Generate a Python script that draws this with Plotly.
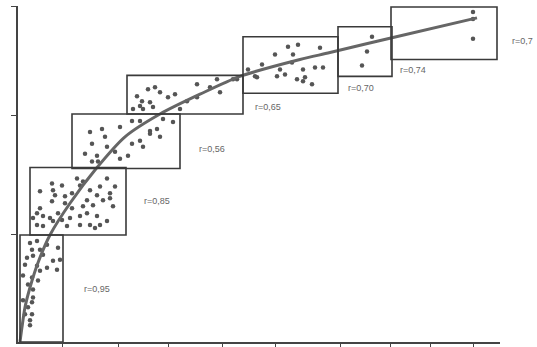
import plotly.graph_objects as go

# ---- data (x and y in arbitrary axis units) ----
pts_x = [
    # group 1
    1.2, 1.9, 1.4, 2.2, 2.9, 4.0, 0.9, 1.5, 2.5, 3.5, 4.2, 0.7, 1.9, 2.9, 3.9, 2.2,
    1.4, 2.0, 0.5, 1.0, 1.5, 1.5, 1.4, 1.0, 1.4, 1.2, 1.2, 0.5, 0.7,
    # group 2
    2.2, 3.4, 3.5, 3.7, 4.4, 4.7, 5.4, 6.2, 6.5, 5.9, 7.2, 8.2, 8.9, 9.7, 9.2, 7.9,
    8.5, 9.5, 9.2, 6.9, 7.5, 6.5, 5.4, 4.7, 3.4, 2.2, 1.9, 2.5, 3.2, 4.0, 4.4, 5.2,
    6.2, 6.9, 7.9, 8.2, 7.2, 6.2, 4.9, 2.5, 1.9, 1.5, 3.5, 8.9, 7.7,
    # group 3
    7.2, 8.4, 10.2, 8.7, 7.4, 8.9, 6.7, 7.9, 9.7, 11.0, 10.2, 11.4, 12.2, 13.2, 14.2,
    13.2, 13.9, 11.4, 12.2, 15.5, 14.5, 12.5, 7.4, 8.0,
    # group 4
    11.9, 12.4, 13.0, 13.7, 12.2, 13.2, 13.5, 14.2, 15.0, 15.7, 16.2, 12.5, 11.5,
    17.9, 19.2, 20.2, 19.9, 21.5, 17.9, 16.9,
    # group 5
    21.9, 23.0, 23.7, 24.4, 25.7, 26.2, 25.9, 26.7, 27.0, 27.5, 28.0, 27.4, 28.5,
    28.7, 29.7, 30.2, 30.5, 27.9, 28.5, 29.4, 23.9,
    # group 6
    35.4, 34.9, 34.4,
    # group 7
    45.5, 45.5, 45.5,
]
pts_y = [
    10.0, 10.2, 9.3, 9.3, 9.8, 9.5, 8.5, 8.7, 8.8, 8.2, 8.3, 7.8, 7.7, 7.5, 7.3, 7.2,
    6.5, 6.2, 6.7, 5.8, 5.3, 4.5, 4.0, 3.5, 2.8, 2.2, 1.7, 4.2, 2.8,
    15.2, 16.0, 15.3, 14.8, 15.8, 14.7, 15.0, 15.8, 16.2, 16.5, 15.3, 15.7, 16.5, 15.7, 15.0, 14.8,
    14.3, 13.7, 14.5, 14.3, 13.8, 13.7, 13.5, 14.0, 14.2, 13.5, 13.0, 12.7, 12.5, 13.0, 12.3, 12.5,
    12.7, 13.0, 12.7, 11.8, 11.8, 11.8, 11.7, 11.7, 11.8, 12.5, 12.2, 12.2, 11.5,
    21.2, 21.5, 21.7, 20.7, 20.0, 19.7, 19.0, 18.8, 19.2, 18.8, 18.5, 20.0, 20.3, 21.0, 20.7,
    21.3, 21.5, 22.3, 22.3, 22.2, 22.5, 19.7, 18.2, 18.2,
    24.8, 24.3, 25.5, 25.7, 23.8, 24.2, 23.7, 25.2, 24.7, 25.0, 23.5, 23.5, 23.5,
    26.0, 25.7, 25.2, 26.5, 26.5, 24.7, 24.3,
    26.5, 27.5, 26.8, 28.0, 29.0, 27.5, 26.8, 27.0, 29.8, 29.0, 30.0, 28.2, 27.5,
    26.7, 27.7, 29.7, 27.7, 26.5, 26.3, 26.0, 26.7,
    30.8, 29.3, 27.9,
    33.3, 32.6, 30.6,
]

curve_x = [0.2, 0.4, 0.7, 1.2, 2.0, 3.2, 5.2, 7.9, 10.7, 14.2, 18.2, 22.2, 28.2, 31.2, 37.4, 45.9]
curve_y = [0.0, 1.5, 3.5, 5.5, 8.0, 10.8, 14.0, 17.6, 20.7, 23.0, 25.0, 26.8, 28.5, 29.2, 30.7, 32.7]

# group boxes: (x0, x1, y0, y1)
boxes = [
    (0.2, 4.5, 0.0, 10.8),
    (1.2, 10.8, 10.8, 17.6),
    (5.4, 16.2, 17.5, 23.0),
    (10.9, 22.5, 23.0, 26.9),
    (22.5, 32.0, 25.1, 30.8),
    (32.0, 37.4, 26.8, 31.8),
    (37.3, 47.9, 28.5, 33.8),
]

labels = ["r=0,95", "r=0,85", "r=0,56", "r=0,65", "r=0,70", "r=0,74", "r=0,7"]
label_x = [7.9, 13.9, 19.4, 25.0, 34.3, 39.5, 49.2]
label_y = [5.3, 14.2, 19.5, 23.7, 25.6, 27.4, 30.4]

x_ticks = [4.4, 10.0, 15.0, 20.4, 25.7, 32.2, 37.2, 41.2, 45.5]
y_ticks = [10.8, 22.9, 33.9]

X_RANGE = [0, 48.2]
Y_RANGE = [0, 33.9]

# ---- figure ----
fig = go.Figure()

fig.add_trace(go.Scatter(
    x=pts_x, y=pts_y, mode="markers",
    marker=dict(size=4.5, color="#555555"),
    hoverinfo="skip", showlegend=False, cliponaxis=False,
))
fig.add_trace(go.Scatter(
    x=curve_x, y=curve_y, mode="lines",
    line=dict(color="#666666", width=3, shape="spline", smoothing=0.8),
    hoverinfo="skip", showlegend=False, cliponaxis=False,
))

for (x0, x1, y0, y1) in boxes:
    fig.add_shape(type="rect", xref="x", yref="y", x0=x0, x1=x1, y0=y0, y1=y1,
                  line=dict(color="#3a3a3a", width=1.6), fillcolor="rgba(0,0,0,0)",
                  layer="above")

for t, lx, ly in zip(labels, label_x, label_y):
    if lx > X_RANGE[1]:
        fig.add_annotation(text=t, xref="paper", yref="y",
                           x=(lx - X_RANGE[0]) / (X_RANGE[1] - X_RANGE[0]), y=ly,
                           xanchor="left", showarrow=False,
                           font=dict(family="Liberation Sans, Arial", size=9, color="#666666"))
    else:
        fig.add_annotation(text=t, x=lx, y=ly, showarrow=False,
                           font=dict(family="Liberation Sans, Arial", size=9, color="#666666"))

fig.update_layout(
    width=537, height=347,
    margin=dict(l=18, r=37, t=6, b=2),
    paper_bgcolor="white", plot_bgcolor="white",
    xaxis=dict(range=X_RANGE, showgrid=False, zeroline=False, showline=True,
               linecolor="#444444", linewidth=1.6, tickvals=x_ticks, ticktext=[""] * len(x_ticks),
               ticks="outside", ticklen=3, tickcolor="#444444", tickwidth=1.2, fixedrange=True),
    yaxis=dict(range=Y_RANGE, showgrid=False, zeroline=False, showline=True,
               linecolor="#444444", linewidth=1.6, tickvals=y_ticks, ticktext=[""] * len(y_ticks),
               ticks="outside", ticklen=5, tickcolor="#444444", tickwidth=1.2, fixedrange=True),
)

fig.write_html("out.html", config={"displayModeBar": False},
               post_script="document.body.style.margin='0px';document.body.style.overflow='hidden';")
